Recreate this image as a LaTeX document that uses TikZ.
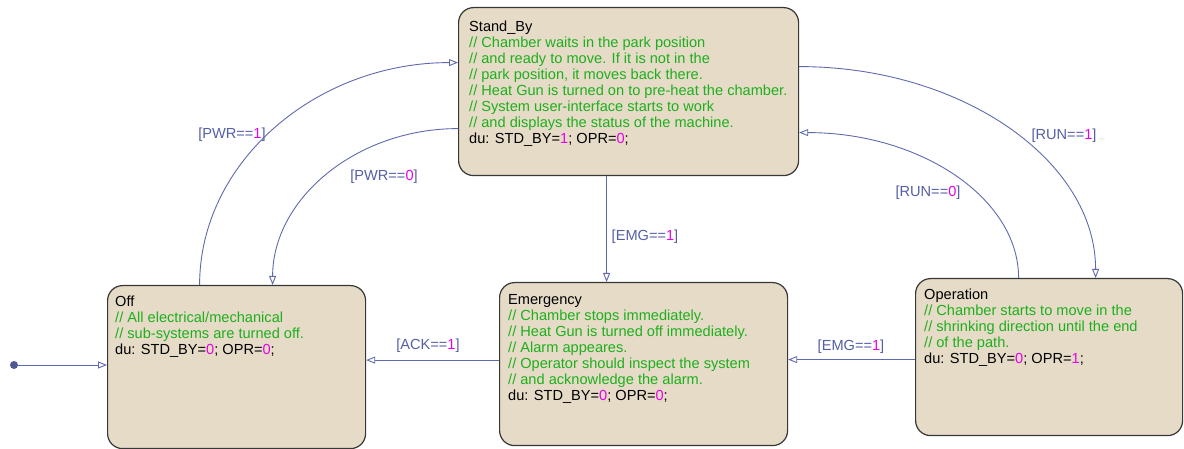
\documentclass[tikz,border=0pt]{standalone}
\usepackage{fontspec}
\setmainfont{Liberation Sans}
\usetikzlibrary{arrows.meta}
\definecolor{statefill}{RGB}{229,219,198}
\definecolor{stateline}{RGB}{55,55,55}
\definecolor{transline}{RGB}{95,105,175}
\definecolor{guardtxt}{RGB}{85,95,165}
\definecolor{cmttxt}{RGB}{30,175,30}
\definecolor{valtxt}{RGB}{235,0,235}
\newcommand{\cmt}[1]{\textcolor{cmttxt}{#1}}
\newcommand{\val}[1]{\textcolor{valtxt}{#1}}

\begin{document}
\begin{tikzpicture}[x=1pt,y=1pt,
    state/.style={draw=stateline,line width=1.2pt,fill=statefill,rounded corners=15pt,anchor=north west,inner sep=0pt},
    statetxt/.style={anchor=north west,align=left,inner sep=0pt,font=\fontsize{14.6}{16}\selectfont},
    trans/.style={draw=transline,line width=0.9pt,-{Triangle[open,length=9pt,width=7pt]}},
    guard/.style={text=guardtxt,inner sep=0pt,font=\fontsize{14.6}{16}\selectfont}]
    \useasboundingbox (0,0) rectangle (1184,449);
    %%% STATES %%%
    % boxes %
    \node[state,minimum width=340pt,minimum height=168pt] (standby) at (458,442) {};
    \node[state,minimum width=258pt,minimum height=163pt] (off) at (107,164) {};
    \node[state,minimum width=288pt,minimum height=163pt] (emergency) at (499,167) {};
    \node[state,minimum width=267pt,minimum height=157pt] (operation) at (915,171) {};
    % texts %
    \node[statetxt] (standbytxt) at ([shift={(11,-14)}]standby.north west)
        {Stand\_By\\
         \cmt{// Chamber waits in the park position}\\
         \cmt{// and ready to move. If it is not in the}\\
         \cmt{// park position, it moves back there.}\\
         \cmt{// Heat Gun is turned on to pre-heat the chamber.}\\
         \cmt{// System user-interface starts to work}\\
         \cmt{// and displays the status of the machine.}\\
         du: STD\_BY=\val{1}; OPR=\val{0};};
    \node[statetxt] (offtxt) at ([shift={(8,-11)}]off.north west)
        {Off\\
         \cmt{// All electrical/mechanical}\\
         \cmt{// sub-systems are turned off.}\\
         du: STD\_BY=\val{0}; OPR=\val{0};};
    \node[statetxt] (emergencytxt) at ([shift={(9,-12)}]emergency.north west)
        {Emergency\\
         \cmt{// Chamber stops immediately.}\\
         \cmt{// Heat Gun is turned off immediately.}\\
         \cmt{// Alarm appeares.}\\
         \cmt{// Operator should inspect the system}\\
         \cmt{// and acknowledge the alarm.}\\
         du: STD\_BY=\val{0}; OPR=\val{0};};
    \node[statetxt] (operationtxt) at ([shift={(9,-11)}]operation.north west)
        {Operation\\
         \cmt{// Chamber starts to move in the}\\
         \cmt{// shrinking direction until the end}\\
         \cmt{// of the path.}\\
         du: STD\_BY=\val{0}; OPR=\val{1};};
    %%% TRANSITIONS %%%
    % default transition %
    \node[circle,fill=transline!85!black,minimum size=8pt,inner sep=0pt] (init) at (14,84) {};
    \draw[trans] (init) -- (init -| off.west);
    % curved ones %
    \draw[trans] ([xshift=-37pt]off.north) .. controls +(0,123) and +(-142,0) .. ([yshift=29pt]standby.west);
    \draw[trans] ([yshift=-37pt]standby.west) .. controls +(-102,0) and +(0,86) .. ([xshift=36pt]off.north);
    \draw[trans] ([yshift=25pt]standby.east) .. controls +(163,0) and +(0,117) .. ([xshift=46.5pt]operation.north);
    \draw[trans] ([xshift=-30.5pt]operation.north) .. controls +(0,80) and +(121,0) .. ([yshift=-41pt]standby.east);
    % straight ones %
    \draw[trans] ([xshift=-22pt]standby.south) coordinate (emgtop) -- (emgtop |- emergency.north);
    \draw[trans] ([yshift=4pt]emergency.west) -- ([yshift=7pt]off.east);
    \draw[trans] ([yshift=-2.5pt]operation.west) -- ([yshift=4.5pt]emergency.east);
    % guards %
    \node[guard] (pwr1) at (232,314) {[PWR==\val{1}]};
    \node[guard] (pwr0) at (384,272) {[PWR==\val{0}]};
    \node[guard] (run1) at (1064,313) {[RUN==\val{1}]};
    \node[guard] (run0) at (928,256) {[RUN==\val{0}]};
    \node[guard] (emg1) at (645,212) {[EMG==\val{1}]};
    \node[guard] (ack1) at (428,103) {[ACK==\val{1}]};
    \node[guard] (emg2) at (851,102) {[EMG==\val{1}]};
\end{tikzpicture}
\end{document}
